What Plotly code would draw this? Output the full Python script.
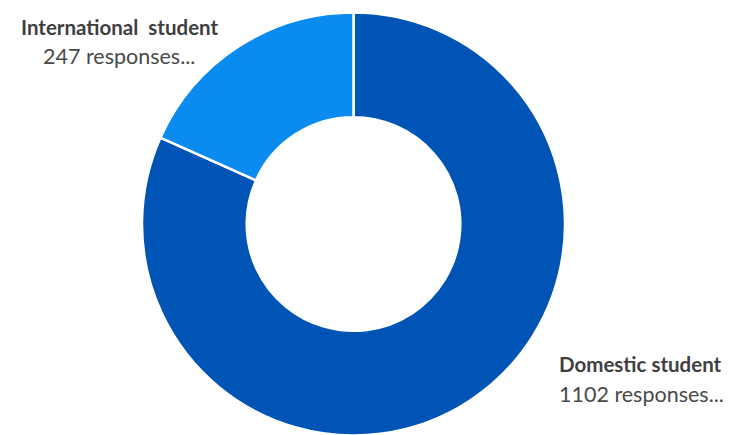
import plotly.graph_objects as go

categories = ["Domestic student", "International student"]
responses = [1102, 247]
colors = ["#0054b5", "#0a8bf0"]

W, H = 732, 435
OFF = 8  # default page body margin

# target on-screen donut centre and radius
cx, cy, r = 353.5, 224.0, 211.5
fx, fy = cx - OFF, cy - OFF

fig = go.Figure(go.Pie(
    labels=categories,
    values=responses,
    hole=0.505,
    sort=False,
    direction="clockwise",
    rotation=0,
    marker=dict(colors=colors, line=dict(color="white", width=2.5)),
    textinfo="none",
    hoverinfo="label+value",
    showlegend=False,
    domain=dict(x=[(fx - r) / W, (fx + r) / W],
                y=[1 - (fy + r) / H, 1 - (fy - r) / H]),
))


def px(x, y):
    return (x - OFF) / W, 1 - (y - OFF) / H


font_fam = "Lato, Open Sans, sans-serif"
label_font = dict(family=font_fam, size=20.5, color="#3f3f3f")
value_font = dict(family=font_fam, size=21.5, color="#4a4a4a")

x, y = px(119, 27)
fig.add_annotation(x=x, y=y, xref="paper", yref="paper",
                   text="<b>International  student</b>", showarrow=False,
                   xanchor="center", yanchor="middle", font=label_font)
x, y = px(119, 56)
fig.add_annotation(x=x, y=y, xref="paper", yref="paper",
                   text=f"{responses[1]} responses...", showarrow=False,
                   xanchor="center", yanchor="middle", font=value_font)
x, y = px(557, 364)
fig.add_annotation(x=x, y=y, xref="paper", yref="paper",
                   text="<b>" + categories[0] + "</b>", showarrow=False,
                   xanchor="left", yanchor="middle", font=label_font)
x, y = px(557, 394)
fig.add_annotation(x=x, y=y, xref="paper", yref="paper",
                   text=f"{responses[0]} responses...", showarrow=False,
                   xanchor="left", yanchor="middle", font=value_font)

fig.update_layout(
    width=W, height=H,
    margin=dict(l=0, r=0, t=0, b=0),
    paper_bgcolor="white", plot_bgcolor="white",
)

fig.write_html("out.html")
